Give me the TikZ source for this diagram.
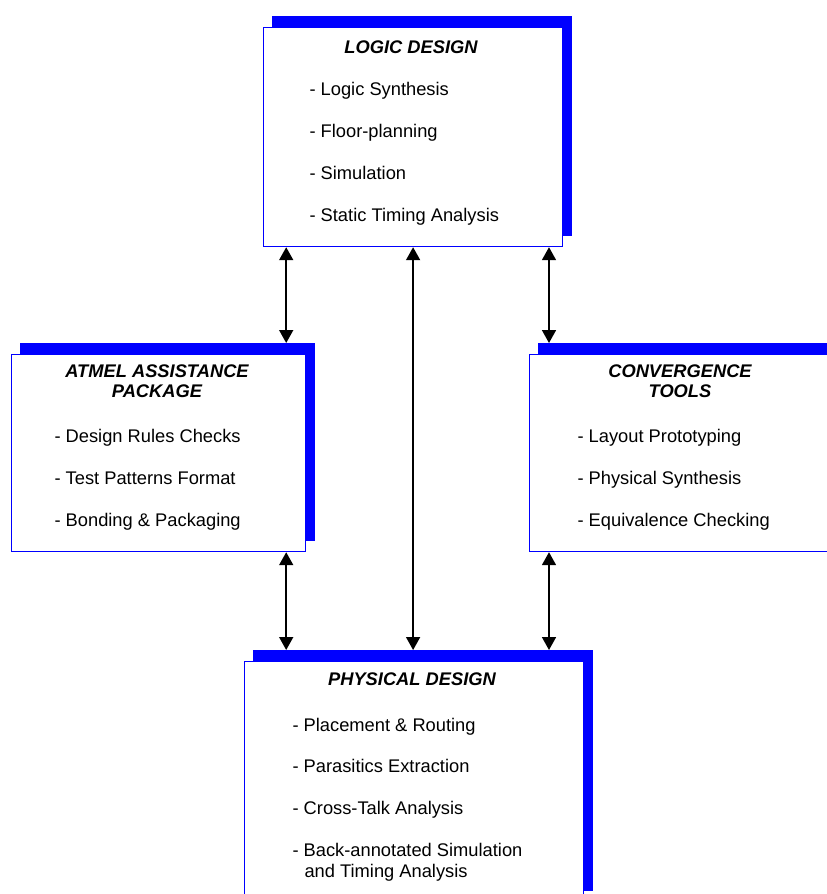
\documentclass[tikz,border=0pt]{standalone}
\usepackage{fontspec}
\setmainfont{Liberation Sans}
\usetikzlibrary{shadows,arrows.meta}

\tikzset{
  panel/.style={draw=blue, line width=1.2pt, fill=white, anchor=north west, inner sep=0pt,
    general shadow={shadow xshift=9pt, shadow yshift=11pt, fill=blue, draw=blue}},
  head/.style={anchor=base, align=center, font=\fontsize{18.3}{20}\selectfont\bfseries\itshape},
  item/.style={anchor=base west, align=left, font=\fontsize{18.3}{21}\selectfont},
  link/.style={{Triangle[length=13pt,width=14pt]}-{Triangle[length=13pt,width=14pt]}, line width=1.7pt}
}

\begin{document}
\begin{tikzpicture}[x=1pt,y=-1pt]
  \clip (0,0) rectangle (827,894);

  % Draw the four boxes with their blue shadows
  \node[panel, minimum width=299pt, minimum height=219pt] (ld) at (263,27) {};
  \node[panel, minimum width=294pt, minimum height=197pt] (ap) at (11,354) {};
  \node[panel, minimum width=300pt, minimum height=197pt] (ct) at (529,354) {};
  \node[panel, minimum width=339pt, minimum height=240pt] (pd) at (244,661) {};

  % Logic design
  \node[head] (ldt) at (411,53) {LOGIC DESIGN};
  \node[item] (ld1) at (306,95) {- Logic Synthesis};
  \node[item] (ld2) at (306,137) {- Floor-planning};
  \node[item] (ld3) at (306,179) {- Simulation};
  \node[item] (ld4) at (306,221) {- Static Timing Analysis};

  % Atmel assistance package (base is the last line)
  \node[head] (apt) at (157,397) {ATMEL ASSISTANCE\\PACKAGE};
  \node[item] (ap1) at (51,442) {- Design Rules Checks};
  \node[item] (ap2) at (51,484) {- Test Patterns Format};
  \node[item] (ap3) at (51,526) {- Bonding \& Packaging};

  % Convergence tools
  \node[head] (ctt) at (680,397) {CONVERGENCE\\TOOLS};
  \node[item] (ct1) at (574,442) {- Layout Prototyping};
  \node[item] (ct2) at (574,484) {- Physical Synthesis};
  \node[item] (ct3) at (574,526) {- Equivalence Checking};

  % Physical design
  \node[head] (pdt) at (412,685) {PHYSICAL DESIGN};
  \node[item] (pd1) at (289,731) {- Placement \& Routing};
  \node[item] (pd2) at (289,772) {- Parasitics Extraction};
  \node[item] (pd3) at (289,814) {- Cross-Talk Analysis};
  \node[item] (pd4) at (289,877) {- Back-annotated Simulation\\\hspace*{12pt}and Timing Analysis};

  % Connections
  \draw[link] ([xshift=-20pt]ap.north east |- ld.south) -- ([xshift=-20pt,yshift=11pt]ap.north east);
  \draw[link] ([xshift=20pt]ct.north west |- ld.south) -- ([xshift=20pt,yshift=11pt]ct.north west);
  \draw[link] (ld.south) -- ([yshift=11pt]ld.south |- pd.north);
  \draw[link] ([xshift=-20pt]ap.south east) -- ([xshift=-20pt,yshift=11pt]ap.south east |- pd.north);
  \draw[link] ([xshift=20pt]ct.south west) -- ([xshift=20pt,yshift=11pt]ct.south west |- pd.north);
\end{tikzpicture}
\end{document}
